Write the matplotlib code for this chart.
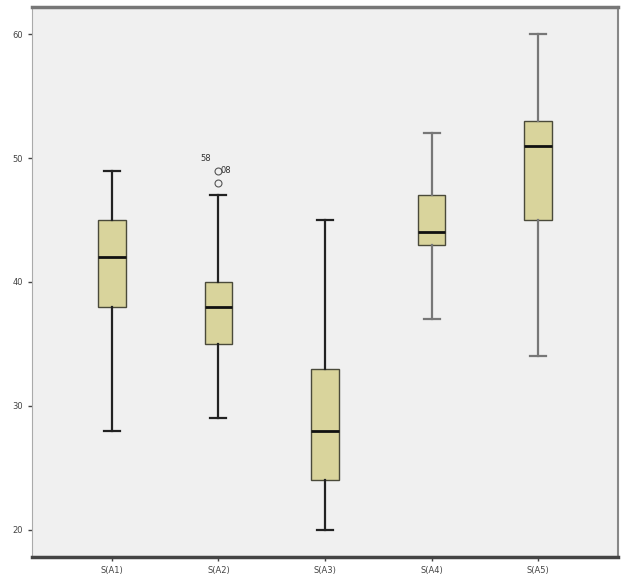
import matplotlib
matplotlib.use('Agg')
import matplotlib.pyplot as plt

# box plot summary values
labels = ['S(A1)', 'S(A2)', 'S(A3)', 'S(A4)', 'S(A5)']
whis_lo = [28, 29, 20, 37, 34]
q1 = [38, 35, 24, 43, 45]
med = [42, 38, 28, 44, 51]
q3 = [45, 40, 33, 47, 53]
whis_hi = [49, 47, 45, 52, 60]
fliers = [[], [48, 49], [], [], []]
flier_ids = ['108', '58']

stats = []
for i in range(len(labels)):
    stats.append({'label': labels[i], 'whislo': whis_lo[i], 'q1': q1[i], 'med': med[i],
                  'q3': q3[i], 'whishi': whis_hi[i], 'fliers': fliers[i]})

fig = plt.figure(figsize=(6.25, 5.83), dpi=100)
ax = fig.add_axes([0.0512, 0.0446, 0.9376, 0.9434])
ax.set_facecolor('#f0f0f0')

bp = ax.bxp(stats, widths=0.26, patch_artist=True,
            boxprops=dict(facecolor='#d9d49c', edgecolor='#4a4a3a', linewidth=1),
            medianprops=dict(color='#111111', linewidth=2),
            whiskerprops=dict(color='#222222', linewidth=1.6),
            capprops=dict(color='#222222', linewidth=1.6),
            capwidths=0.15,
            flierprops=dict(marker='o', markersize=5, markerfacecolor='none',
                            markeredgecolor='#555555', markeredgewidth=0.8))

# last two whiskers look grey
for w in bp['whiskers'][6:] + bp['caps'][6:]:
    w.set_color('#777777')

# outlier case labels
ax.text(1.88, 50.0, flier_ids[1], fontsize=6, color='#333333', va='center', ha='center')
ax.text(2.07, 49.0, flier_ids[0][1:], fontsize=6, color='#333333', va='center', ha='center')

ax.set_xlim(0.25, 5.75)
ax.set_ylim(17.8, 62.2)
ax.set_yticks([20, 30, 40, 50, 60])
ax.tick_params(labelsize=6, colors='#444444', length=3, width=1)

ax.spines['top'].set_color('#777777')
ax.spines['top'].set_linewidth(2.5)
ax.spines['bottom'].set_color('#444444')
ax.spines['bottom'].set_linewidth(2.5)
ax.spines['left'].set_color('#aaaaaa')
ax.spines['right'].set_color('#888888')
ax.spines['right'].set_linewidth(1.5)

fig.savefig('out.png', dpi=100)
